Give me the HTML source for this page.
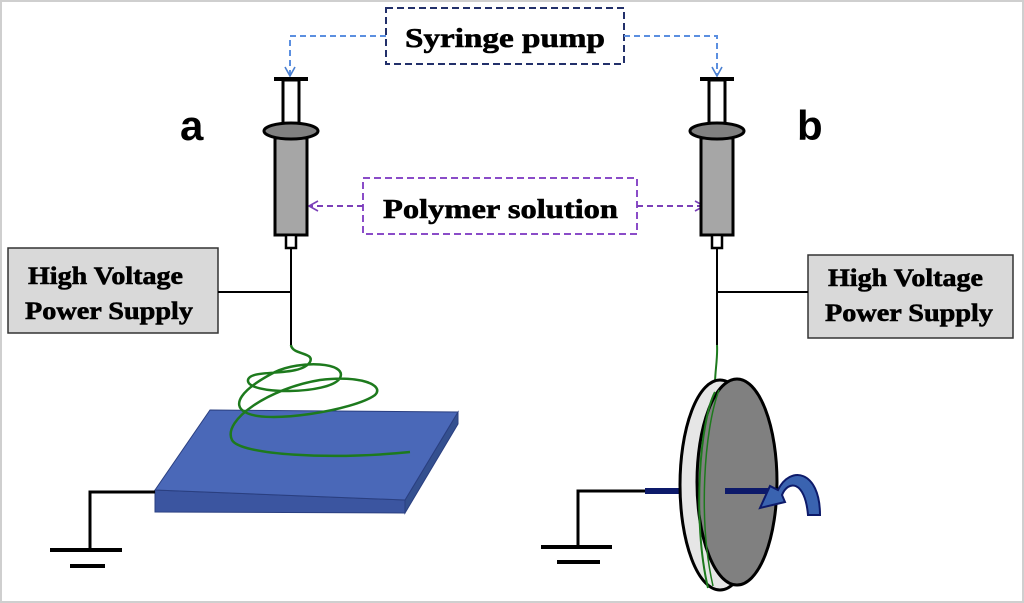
<!DOCTYPE html>
<html><head><style>body{margin:0;background:#fff}svg{display:block}</style></head><body>
<svg width="1024" height="603" viewBox="0 0 1024 603" xmlns="http://www.w3.org/2000/svg">
<rect x="1" y="1" width="1022" height="601" fill="#fff" stroke="#cfcfcf" stroke-width="2"/>
<defs>
<marker id="ab" markerWidth="12" markerHeight="12" refX="10" refY="6" orient="auto" markerUnits="userSpaceOnUse"><path d="M1,1 L10,6 L1,11" fill="none" stroke="#4a7fd0" stroke-width="1.6"/></marker>
<marker id="ap" markerWidth="12" markerHeight="12" refX="10" refY="6" orient="auto" markerUnits="userSpaceOnUse"><path d="M1,1 L10,6 L1,11" fill="none" stroke="#7b3fb8" stroke-width="1.6"/></marker>
</defs>
<g font-family="Liberation Serif, serif" font-weight="bold" stroke="#000" stroke-width="0.6">
<rect x="386" y="8" width="238" height="56" fill="none" stroke="#22306a" stroke-width="2" stroke-dasharray="7,4"/>
<text x="405" y="47" font-size="27" textLength="200" lengthAdjust="spacingAndGlyphs">Syringe pump</text>
<path d="M386,36 H290 V76" fill="none" stroke="#5b8fe0" stroke-width="2" stroke-dasharray="6,4" marker-end="url(#ab)"/>
<path d="M624,36 H717 V76" fill="none" stroke="#5b8fe0" stroke-width="2" stroke-dasharray="6,4" marker-end="url(#ab)"/>
<rect x="363" y="178" width="274" height="56" fill="none" stroke="#8a4cc8" stroke-width="2" stroke-dasharray="7,4"/>
<text x="383" y="218" font-size="27" textLength="235" lengthAdjust="spacingAndGlyphs">Polymer solution</text>
<path d="M363,206 H309" fill="none" stroke="#7b3fb8" stroke-width="2" stroke-dasharray="6,4" marker-end="url(#ap)"/>
<path d="M637,206 H704" fill="none" stroke="#7b3fb8" stroke-width="2" stroke-dasharray="6,4" marker-end="url(#ap)"/>
<rect x="8" y="248" width="210" height="85" fill="#d9d9d9" stroke="#333" stroke-width="1.5"/>
<text x="28" y="284" font-size="25" textLength="155" lengthAdjust="spacingAndGlyphs">High Voltage</text>
<text x="25" y="319" font-size="25" textLength="168" lengthAdjust="spacingAndGlyphs">Power Supply</text>
<rect x="808" y="255" width="205" height="83" fill="#d9d9d9" stroke="#333" stroke-width="1.5"/>
<text x="828" y="286" font-size="25" textLength="155" lengthAdjust="spacingAndGlyphs">High Voltage</text>
<text x="825" y="321" font-size="25" textLength="168" lengthAdjust="spacingAndGlyphs">Power Supply</text>
</g>
<text x="180" y="140" font-family="Liberation Sans, sans-serif" font-weight="bold" font-size="42">a</text>
<text x="797" y="140" font-family="Liberation Sans, sans-serif" font-weight="bold" font-size="42">b</text>
<g id="syr" stroke="#000" stroke-width="3">
<line x1="274" y1="79" x2="308" y2="79" stroke-width="4"/>
<rect x="283" y="80" width="16" height="45" fill="#fff"/>
<rect x="275" y="138" width="32" height="97" fill="#a6a6a6"/>
<ellipse cx="291" cy="131" rx="27" ry="8" fill="#808080"/>
<rect x="286" y="235" width="10" height="13" fill="#fff" stroke-width="2.5"/>
<line x1="291" y1="248" x2="291" y2="345" stroke-width="2"/>
</g>
<use href="#syr" transform="translate(426,0)"/>
<line x1="218" y1="292" x2="291" y2="292" stroke="#000" stroke-width="2"/>
<line x1="717" y1="292" x2="808" y2="292" stroke="#000" stroke-width="2"/>
<polygon points="155,490 405,500 405,513 155,512" fill="#3b55a0" stroke="#2a3f80" stroke-width="1"/>
<polygon points="405,500 458,412 458,424 405,513" fill="#34508f" stroke="#2a3f80" stroke-width="1"/>
<polygon points="210,410 458,412 405,500 155,490" fill="#4a68b8" stroke="#2a3f80" stroke-width="1"/>
<path d="M291,345 C292,355 315,352 310,362 C300,378 250,368 248,380 C246,395 330,395 340,378 C348,362 300,360 275,372 C240,390 232,405 245,412 C265,425 355,410 375,395 C385,385 360,375 320,380 C270,388 222,420 232,440 C240,455 330,460 410,452" fill="none" stroke="#1d7a1d" stroke-width="2.5"/>
<path d="M155,492 H90 V550" fill="none" stroke="#000" stroke-width="3"/>
<line x1="50" y1="550" x2="122" y2="550" stroke="#000" stroke-width="4"/>
<line x1="70" y1="566" x2="105" y2="566" stroke="#000" stroke-width="4"/>
<path d="M717,345 C718,360 714,375 715,392" fill="none" stroke="#1d7a1d" stroke-width="2"/>
<line x1="645" y1="491" x2="682" y2="491" stroke="#0d1a6a" stroke-width="6"/>
<ellipse cx="720" cy="485" rx="40" ry="105" fill="#e6e6e6" stroke="#000" stroke-width="3"/>
<ellipse cx="737" cy="482" rx="40" ry="103" fill="#808080" stroke="#000" stroke-width="3"/>
<path d="M715,392 C700,420 692,520 708,588" fill="none" stroke="#1d7a1d" stroke-width="2"/>
<path d="M719,390 C704,430 698,520 713,586" fill="none" stroke="#1d7a1d" stroke-width="1.5"/>
<line x1="725" y1="491" x2="770" y2="491" stroke="#0d1a6a" stroke-width="6"/>
<path d="M820,515 C820,470 790,465 778,490 L770,486 L760,508 L785,502 L782,495 C788,480 805,480 808,515 Z" fill="#3a63b0" stroke="#0d1a6a" stroke-width="2"/>
<path d="M645,491 H578 V548" fill="none" stroke="#000" stroke-width="3"/>
<line x1="541" y1="547" x2="612" y2="547" stroke="#000" stroke-width="4"/>
<line x1="557" y1="562" x2="600" y2="562" stroke="#000" stroke-width="4"/>
</svg>
</body></html>
